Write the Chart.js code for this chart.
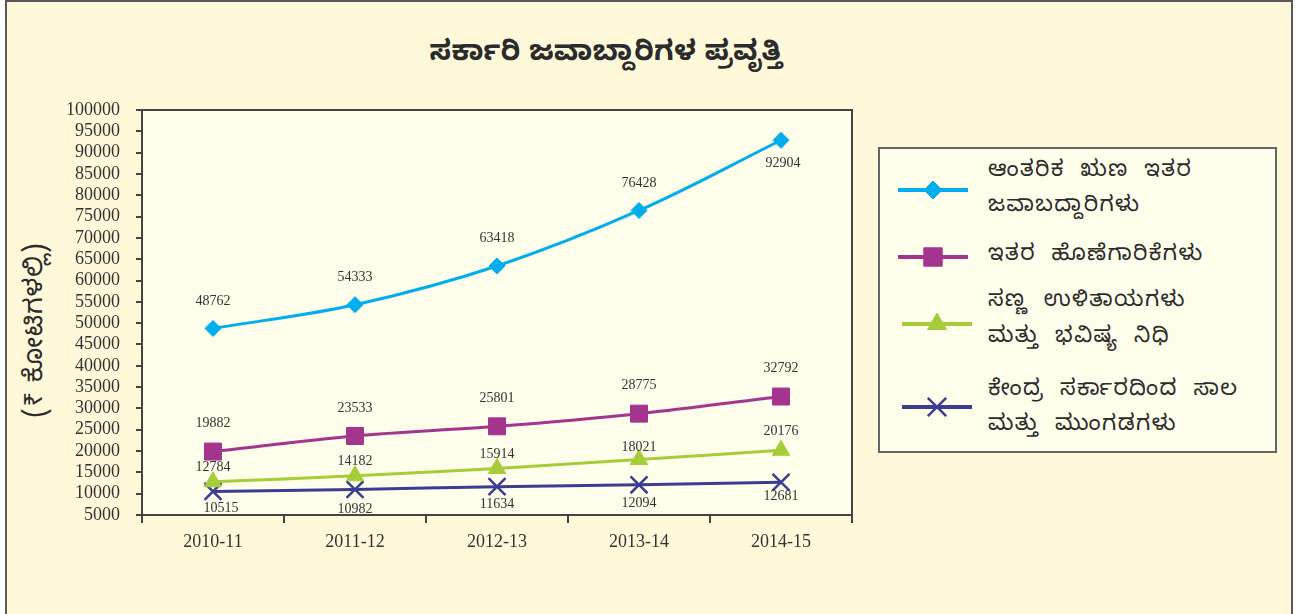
<!DOCTYPE html>
<html>
<head>
<meta charset="utf-8">
<script src="https://cdn.jsdelivr.net/npm/chart.js@4/dist/chart.umd.min.js"></script>
<style>
  html, body { margin: 0; padding: 0; background: #ffffff; }
  #wrap { position: relative; width: 1300px; height: 614px; overflow: hidden; background: #ffffff; }
  #frame { position: absolute; left: 5px; top: 0; width: 1284px; height: 640px; border: 2px solid #5a5a5a; background: #FFF9DA; }
  #c { position: absolute; left: 0; top: 0; z-index: 5; pointer-events: none; }
  .kn { font-family: "Noto Sans Kannada", "Noto Sans", "Lohit Kannada", sans-serif; color: #2b2b2b; position: absolute; white-space: nowrap; }
  #title { left: 0; width: 1212px; top: 37px; text-align: center; font-size: 28px; font-weight: bold; letter-spacing: 0.5px; }
  #ytitle { left: 38px; top: 330px; font-size: 26px; letter-spacing: 1px; transform: translate(-50%, -50%) rotate(-90deg); }
  #legend { position: absolute; left: 878px; top: 147px; width: 399px; height: 306px; border: 2px solid #666; background: #FFFEEB; box-sizing: border-box; }
  .lt { font-size: 22px; left: 108px; letter-spacing: 1.4px; word-spacing: 8px; transform: translateY(-50%); }
</style>
</head>
<body>
<div id="wrap">
  <div id="frame"></div>
  <div id="title" class="kn">ಸರ್ಕಾರಿ ಜವಾಬ್ದಾರಿಗಳ ಪ್ರವೃತ್ತಿ</div>
  <div id="ytitle" class="kn">(₹ ಕೋಟಿಗಳಲ್ಲಿ)</div>
  <div id="legend">
    <div class="kn lt" style="top:24px">ಆಂತರಿಕ ಋಣ ಇತರ</div>
    <div class="kn lt" style="top:59px">ಜವಾಬದ್ದಾರಿಗಳು</div>
    <div class="kn lt" style="top:108px">ಇತರ ಹೊಣೆಗಾರಿಕೆಗಳು</div>
    <div class="kn lt" style="top:154px">ಸಣ್ಣ ಉಳಿತಾಯಗಳು</div>
    <div class="kn lt" style="top:190px">ಮತ್ತು ಭವಿಷ್ಯ ನಿಧಿ</div>
    <div class="kn lt" style="top:243px">ಕೇಂದ್ರ ಸರ್ಕಾರದಿಂದ ಸಾಲ</div>
    <div class="kn lt" style="top:278px">ಮತ್ತು ಮುಂಗಡಗಳು</div>
  </div>
  <canvas id="c" width="1300" height="614"></canvas>
</div>
<script>
// ---- data ----
const categories = ['2010-11', '2011-12', '2012-13', '2013-14', '2014-15'];
const internalDebt = [48762, 54333, 63418, 76428, 92904];
const otherLiabilities = [19882, 23533, 25801, 28775, 32792];
const smallSavings = [12784, 14182, 15914, 18021, 20176];
const centralLoans = [10515, 10982, 11634, 12094, 12681];
const yMin = 5000;
const yMax = 100000;
const yStep = 5000;

// ---- styling ----
const colors = ['#00AEEF', '#A4358F', '#A5CD39', '#3B3D95'];
const labelDy = [[-27, -27, -28, -27, 23], [-28, -28, -28, -28, -28], [-14, -15, -14, -12, -19], [17, 20, 18, 19, 14]];
const labelDx = [[0, 0, 0, 0, 2], [0, 0, 0, 0, 0], [0, 0, 0, 0, 0], [8, 0, 0, 0, 0]];
const legendY = [41, 108, 175, 258]; // relative to legend box top
const serif = 'Liberation Serif';

const plotBg = {
  id: 'plotBg',
  beforeDraw(chart) {
    const { ctx, chartArea: a } = chart;
    ctx.save();
    ctx.fillStyle = '#FFFEEB';
    ctx.fillRect(a.left, a.top, a.right - a.left, a.bottom - a.top);
    ctx.restore();
  },
  afterDraw(chart) {
    const { ctx, chartArea: a } = chart;
    ctx.save();
    ctx.strokeStyle = '#444';
    ctx.lineWidth = 2;
    ctx.strokeRect(a.left, a.top, a.right - a.left, a.bottom - a.top);
    ctx.restore();
  }
};

const valueLabels = {
  id: 'valueLabels',
  afterDatasetsDraw(chart) {
    const ctx = chart.ctx;
    ctx.save();
    ctx.font = '14px "' + serif + '"';
    ctx.fillStyle = '#333';
    ctx.textAlign = 'center';
    ctx.textBaseline = 'middle';
    chart.data.datasets.forEach((ds, di) => {
      const meta = chart.getDatasetMeta(di);
      meta.data.forEach((pt, i) => {
        ctx.fillText(String(ds.data[i]), pt.x + labelDx[di][i], pt.y + labelDy[di][i]);
      });
    });
    ctx.restore();
  }
};

const legendSymbols = {
  id: 'legendSymbols',
  afterDraw(chart) {
    const ctx = chart.ctx;
    const left = 880, top = 149;
    chart.data.datasets.forEach((ds, di) => {
      const y = top + legendY[di];
      const x0 = di < 2 ? left + 18 : left + 22;
      const x1 = x0 + 70;
      ctx.save();
      ctx.strokeStyle = ds.borderColor;
      ctx.lineWidth = 4;
      ctx.beginPath();
      ctx.moveTo(x0, y);
      ctx.lineTo(x1, y);
      ctx.stroke();
      ctx.restore();
      ctx.save();
      ctx.fillStyle = ds.pointBackgroundColor;
      ctx.strokeStyle = ds.pointBorderColor;
      ctx.lineWidth = ds.pointBorderWidth;
      Chart.helpers.drawPoint(ctx, {
        pointStyle: ds.pointStyle,
        radius: ds.pointRadius + 1,
        borderWidth: ds.pointBorderWidth,
        rotation: 0
      }, (x0 + x1) / 2, y);
      ctx.restore();
    });
  }
};

function mkSet(label, data, color, style, radius, bw) {
  return {
    label, data,
    borderColor: color,
    backgroundColor: color,
    borderWidth: 3,
    tension: 0.35,
    pointStyle: style,
    pointRadius: radius,
    pointHoverRadius: radius,
    pointBackgroundColor: color,
    pointBorderColor: color,
    pointBorderWidth: bw,
    fill: false
  };
}

new Chart(document.getElementById('c'), {
  type: 'line',
  data: {
    labels: categories,
    datasets: [
      mkSet('ಆಂತರಿಕ ಋಣ ಇತರ ಜವಾಬದ್ದಾರಿಗಳು', internalDebt, colors[0], 'rectRot', 8, 1),
      mkSet('ಇತರ ಹೊಣೆಗಾರಿಕೆಗಳು', otherLiabilities, colors[1], 'rect', 12, 1),
      mkSet('ಸಣ್ಣ ಉಳಿತಾಯಗಳು ಮತ್ತು ಭವಿಷ್ಯ ನಿಧಿ', smallSavings, colors[2], 'triangle', 10, 1),
      mkSet('ಕೇಂದ್ರ ಸರ್ಕಾರದಿಂದ ಸಾಲ ಮತ್ತು ಮುಂಗಡಗಳು', centralLoans, colors[3], 'crossRot', 12, 2.5)
    ]
  },
  options: {
    responsive: false,
    animation: false,
    layout: { padding: { left: 0, top: 110, right: 448, bottom: 39 } },
    plugins: {
      legend: { display: false },
      title: { display: false },
      tooltip: { enabled: false }
    },
    scales: {
      x: {
        offset: true,
        grid: { offset: true, drawOnChartArea: false, drawTicks: true, tickLength: 8, color: '#444', lineWidth: 2 },
        border: { display: true, color: '#444', width: 2 },
        ticks: { color: '#333', padding: 8, font: { family: serif, size: 18 } },
        afterFit(s) { s.height = 60; }
      },
      y: {
        min: yMin,
        max: yMax,
        grid: { drawOnChartArea: false, drawTicks: true, tickLength: 6, color: '#444', lineWidth: 2 },
        border: { display: true, color: '#444', width: 2 },
        ticks: { stepSize: yStep, color: '#333', padding: 16, autoSkip: false, font: { family: serif, size: 18 },
                 callback: (v) => String(v) },
        afterFit(s) { s.width = 142; }
      }
    }
  },
  plugins: [plotBg, valueLabels, legendSymbols]
});
</script>
</body>
</html>
